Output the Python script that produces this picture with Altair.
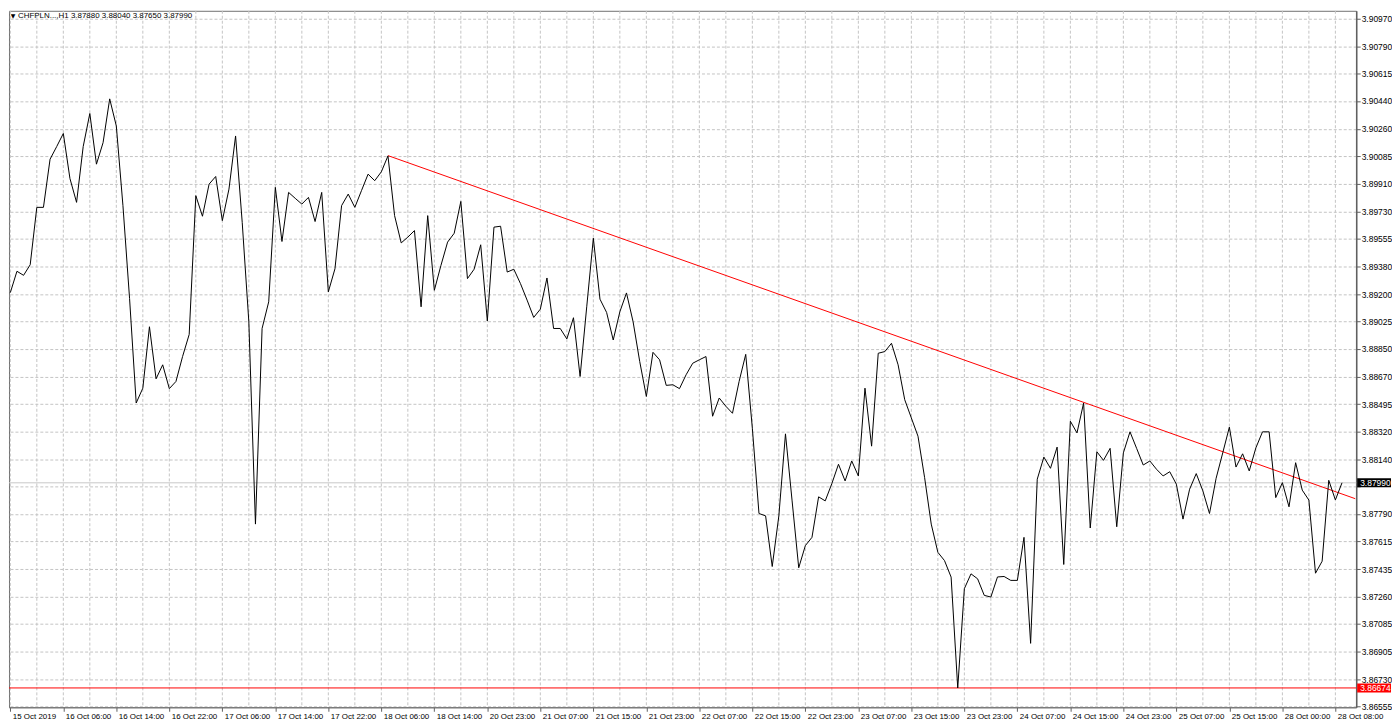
import altair as alt
import pandas as pd

# ---- data (hourly closes, CHFPLN H1) ----
close = [
    3.89210, 3.89347, 3.89321, 3.89389, 3.89757, 3.89757, 3.90066, 3.90147, 3.90231, 3.89942,
    3.89789, 3.90147, 3.90359, 3.90034, 3.90172, 3.90453, 3.90279, 3.89768, 3.89172, 3.88502,
    3.88597, 3.88991, 3.88657, 3.88747, 3.88594, 3.88640, 3.88800, 3.88942, 3.89832, 3.89700,
    3.89906, 3.89955, 3.89672, 3.89874, 3.90215, 3.89661, 3.89023, 3.87725, 3.88980, 3.89151,
    3.89885, 3.89538, 3.89853, 3.89815, 3.89778, 3.89821, 3.89666, 3.89853, 3.89215, 3.89363,
    3.89768, 3.89842, 3.89757, 3.89864, 3.89970, 3.89928, 3.89985, 3.90087, 3.89704, 3.89529,
    3.89566, 3.89608, 3.89119, 3.89704, 3.89225, 3.89385, 3.89534, 3.89591, 3.89795, 3.89300,
    3.89360, 3.89517, 3.89028, 3.89630, 3.89636, 3.89342, 3.89360, 3.89268, 3.89162, 3.89051,
    3.89104, 3.89304, 3.88980, 3.88980, 3.88913, 3.89049, 3.88672, 3.89119, 3.89559, 3.89168,
    3.89083, 3.88906, 3.89087, 3.89208, 3.89023, 3.88768, 3.88544, 3.88827, 3.88779, 3.88615,
    3.88619, 3.88594, 3.88683, 3.88757, 3.88779, 3.88800, 3.88417, 3.88534, 3.88481, 3.88436,
    3.88640, 3.88814, 3.88340, 3.87793, 3.87778, 3.87453, 3.87778, 3.88304, 3.87874, 3.87445,
    3.87587, 3.87640, 3.87900, 3.87874, 3.87985, 3.88109, 3.88002, 3.88130, 3.88034, 3.88597,
    3.88225, 3.88821, 3.88832, 3.88885, 3.88747, 3.88523, 3.88406, 3.88289, 3.88023, 3.87725,
    3.87544, 3.87491, 3.87385, 3.86674, 3.87311, 3.87406, 3.87374, 3.87268, 3.87257, 3.87386,
    3.87389, 3.87364, 3.87364, 3.87640, 3.86960, 3.88013, 3.88155, 3.88083, 3.88219, 3.87466,
    3.88385, 3.88310, 3.88502, 3.87700, 3.88189, 3.88134, 3.88211, 3.87708, 3.88182, 3.88317,
    3.88211, 3.88104, 3.88130, 3.88077, 3.88034, 3.88061, 3.87981, 3.87757, 3.87949, 3.88049,
    3.87938, 3.87793, 3.88019, 3.88182, 3.88347, 3.88091, 3.88176, 3.88066, 3.88214, 3.88317,
    3.88317, 3.87895, 3.87991, 3.87836, 3.88119, 3.87943, 3.87879, 3.87410, 3.87487, 3.88006,
    3.87880, 3.87990,
]

x_labels = [
    "15 Oct 2019", "16 Oct 06:00", "16 Oct 14:00", "16 Oct 22:00", "17 Oct 06:00",
    "17 Oct 14:00", "17 Oct 22:00", "18 Oct 06:00", "18 Oct 14:00", "20 Oct 23:00",
    "21 Oct 07:00", "21 Oct 15:00", "21 Oct 23:00", "22 Oct 07:00", "22 Oct 15:00",
    "22 Oct 23:00", "23 Oct 07:00", "23 Oct 15:00", "23 Oct 23:00", "24 Oct 07:00",
    "24 Oct 15:00", "24 Oct 23:00", "25 Oct 07:00", "25 Oct 15:00", "28 Oct 00:00",
    "28 Oct 08:00",
]
label_every = 8   # bars between time labels
grid_every = 4    # bars between vertical grid lines

y_ticks = [
    3.90970, 3.90790, 3.90615, 3.90440, 3.90260, 3.90085, 3.89910, 3.89730, 3.89555,
    3.89380, 3.89200, 3.89025, 3.88850, 3.88670, 3.88495, 3.88320, 3.88140, 3.87965,
    3.87790, 3.87615, 3.87435, 3.87260, 3.87085, 3.86905, 3.86730, 3.86555,
]
hidden_tick = 3.87965   # label covered by the current-price box in the reference

last_close = 3.87990
low_level = 3.86674
trend_bar = [57, 203]
trend_price = [3.90089, 3.87888]
header = "CHFPLN...,H1  3.87880 3.88040 3.87650 3.87990"

# ---- layout ----
W, H = 1354, 700
FONT = "Liberation Sans"
xs = alt.Scale(domain=[-0.2, 203.14], nice=False, zero=False)
ys = alt.Scale(domain=[3.86550, 3.91018], nice=False, zero=False)

df = pd.DataFrame({"i": list(range(len(close))), "p": close})
grid_df = pd.DataFrame({"i": list(range(0, len(close) + 2, grid_every))})
trend_df = pd.DataFrame({"i": trend_bar, "p": trend_price})
levels_df = pd.DataFrame({"p": [last_close, low_level], "kind": ["last", "low"],
                          "txt": [f"{last_close:.5f}", f"{low_level:.5f}"]})
head_df = pd.DataFrame({"t": [header]})

label_js = "[" + ",".join("'" + s + "'" for s in x_labels) + "]"

x_axis = alt.Axis(
    values=list(range(0, len(x_labels) * label_every, label_every)),
    labelExpr=f"{label_js}[round(datum.value/{label_every})]",
    grid=False, tickSize=4, tickColor="#606060", domainColor="#707070",
    labelAlign="left", labelBaseline="top", labelPadding=1, labelOffset=2,
    labelOverlap=False, labelFlush=False, labelBound=False,
    labelFont=FONT, labelFontSize=8, labelColor="#000000", title=None,
)
y_axis = alt.Axis(
    orient="right", values=y_ticks,
    labelExpr=f"abs(datum.value - {hidden_tick}) < 0.000001 ? '' : format(datum.value, '.5f')",
    grid=True, gridColor="#c4c4c4", gridDash=[3, 2], gridWidth=1,
    tickSize=4, tickColor="#606060", domainColor="#606060", domainWidth=1.5,
    labelPadding=1, labelOverlap=False, labelFlush=False, labelBound=False,
    labelFont=FONT, labelFontSize=8.5, labelColor="#000000", title=None,
)

XE = alt.X("i:Q", scale=xs, axis=x_axis, title=None)
YE = alt.Y("p:Q", scale=ys, axis=y_axis, title=None)

vgrid = alt.Chart(grid_df).mark_rule(color="#c4c4c4", strokeDash=[3, 2], strokeWidth=1).encode(x=XE)

last_rule = alt.Chart(levels_df).transform_filter("datum.kind == 'last'").mark_rule(
    color="#c8c8c8", strokeWidth=1
).encode(y=YE)

low_rule = alt.Chart(levels_df).transform_filter("datum.kind == 'low'").mark_rule(
    color="#ff0000", strokeWidth=1
).encode(y=YE)

trend = alt.Chart(trend_df).mark_line(color="#ff0000", strokeWidth=1).encode(x=XE, y=YE)

line = alt.Chart(df).mark_line(color="#000000", strokeWidth=1).encode(x=XE, y=YE)

boxes = alt.Chart(levels_df).mark_rect(height=9).encode(
    x=alt.value(W + 1), x2=alt.value(W + 35),
    y=YE,
    color=alt.Color("kind:N", scale=alt.Scale(domain=["last", "low"], range=["#000000", "#ff0000"]), legend=None),
)

box_text = alt.Chart(levels_df).mark_text(
    align="left", baseline="middle", color="#ffffff", font=FONT, fontSize=8.5
).encode(x=alt.value(W + 4), y=YE, text="txt:N")

tri = alt.Chart(head_df).mark_text(
    text="▼", align="center", baseline="middle", fontSize=6, color="#000000", font="DejaVu Sans"
).encode(x=alt.value(4), y=alt.value(5))

head = alt.Chart(head_df).mark_text(
    align="left", baseline="middle", fontSize=8, color="#000000", font=FONT
).encode(x=alt.value(9), y=alt.value(5), text="t:N")

chart = alt.layer(
    vgrid, last_rule, trend, low_rule, line, boxes, box_text, tri, head
).properties(
    width=W, height=H,
    padding={"left": 0, "top": 0, "right": 0, "bottom": 0},
    background="#ffffff",
).configure_view(stroke="#707070", strokeWidth=1)

chart.save("out.html", embed_options={"renderer": "svg", "actions": False})
